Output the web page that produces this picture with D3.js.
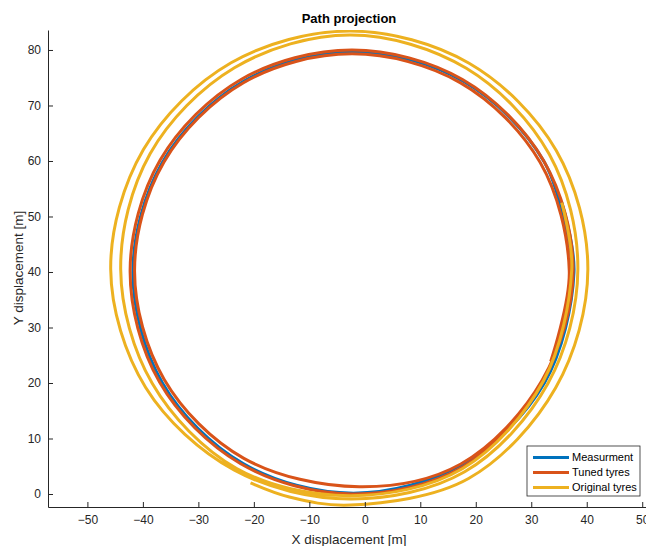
<!DOCTYPE html>
<html>
<head>
<meta charset="utf-8">
<script src="https://cdn.jsdelivr.net/npm/d3@7"></script>
<style>
  body { margin: 0; background: #fff; }
  text { font-family: "Liberation Sans", Arial, sans-serif; }
</style>
</head>
<body>
<div id="chart"></div>
<script>
// Tick values
const xTicks = [-50, -40, -30, -20, -10, 0, 10, 20, 30, 40, 50];
const yTicks = [0, 10, 20, 30, 40, 50, 60, 70, 80];

// Series names (legend order)
const seriesNames = ["Measurment", "Tuned tyres", "Original tyres"];

// Path points [x, y] in metres
const measurement = [
  [35.5, 52.5], [37.7, 39.9], [32.37, 20.02], [17.83, 5.48], [-2.05, 0.15],
  [-21.93, 5.48], [-36.47, 20.02], [-41.8, 39.9], [-36.47, 59.78], [-21.93, 74.32],
  [-2.05, 79.65], [17.83, 74.32], [32.37, 59.78], [37.7, 39.9]
];

const tuned = [
  [35.5, 52.5], [37.3, 40.2], [32.17, 20.3], [17.7, 4.9], [-2.3, 0.0],
  [-22.37, 5.45], [-37.0, 20.17], [-42.3, 40.2], [-36.88, 60.17], [-22.23, 74.73],
  [-2.3, 80.0], [17.61, 74.68], [32.19, 60.12], [37.55, 40.2], [31.93, 20.43],
  [17.31, 5.4], [-1.0, 1.3], [-21.8, 6.43], [-36.16, 20.65], [-41.5, 40.2],
  [-36.22, 59.78], [-21.87, 74.09], [-2.3, 79.3], [17.26, 74.08], [31.59, 59.77],
  [36.85, 40.2], [33.5, 23.9]
];

const original = [
  [35.5, 52.5], [37.3, 40.5], [32.2, 20.4], [17.65, 4.6], [-2.6, -0.3],
  [-23.1, 4.6], [-38.3, 19.9], [-44.0, 40.5], [-38.7, 61.3], [-23.5, 76.8],
  [-2.6, 82.7], [18.3, 76.7], [33.25, 61.2], [38.4, 40.5], [33.0, 19.9],
  [18.0, 4.0], [-2.6, -0.9], [-23.5, 4.3], [-39.5, 19.2], [-45.8, 40.5],
  [-39.9, 62.05], [-24.1, 77.7], [-2.6, 83.4], [18.8, 77.6], [34.5, 61.9],
  [40.2, 40.5], [34.4, 19.15], [18.7, 2.8], [-2.6, -2.0], [-13.6, -0.55],
  [-20.6, 2.0]
];

const width = 646;
const height = 546;
const axisColor = "#262626";
const colors = ["#0072BD", "#D95319", "#EDB120"];

const xScale = d3.scaleLinear().domain([-57.1, 51.4]).range([48, 650]);
const yScale = d3.scaleLinear().domain([-2.34, 83.6]).range([507, 30]);

const svg = d3.select("#chart")
  .append("svg")
  .attr("width", width)
  .attr("height", height);

svg.append("defs").append("clipPath")
  .attr("id", "plot-clip")
  .append("rect")
  .attr("x", 48).attr("y", 30)
  .attr("width", 602).attr("height", 477);

// Paths
const lineGenerator = d3.line()
  .x(d => xScale(d[0]))
  .y(d => yScale(d[1]))
  .curve(d3.curveCatmullRom.alpha(0.5));

const plot = svg.append("g").attr("clip-path", "url(#plot-clip)");
[measurement, tuned, original].forEach((pts, i) => {
  plot.append("path")
    .attr("d", lineGenerator(pts))
    .attr("fill", "none")
    .attr("stroke", colors[i])
    .attr("stroke-width", 3)
    .attr("stroke-linejoin", "round");
});

// Axes (ticks point inwards, like MATLAB)
const xAxis = d3.axisBottom(xScale).tickValues(xTicks).tickSize(-5).tickSizeOuter(0).tickPadding(8);
const gx = svg.append("g")
  .attr("transform", `translate(0,${yScale.range()[0]})`)
  .call(xAxis);

const yAxis = d3.axisLeft(yScale).tickValues(yTicks).tickSize(-5).tickSizeOuter(0).tickPadding(7);
const gy = svg.append("g")
  .attr("transform", `translate(${xScale.range()[0]},0)`)
  .call(yAxis);

[gx, gy].forEach(g => {
  g.select(".domain").attr("stroke", axisColor);
  g.selectAll(".tick line").attr("stroke", axisColor);
  g.selectAll(".tick text")
    .attr("fill", axisColor)
    .style("font-size", "12px");
});

// Title and axis labels
svg.append("text")
  .attr("x", 349)
  .attr("y", 23)
  .attr("text-anchor", "middle")
  .style("font-size", "13px")
  .style("font-weight", "bold")
  .attr("fill", "#000")
  .text("Path projection");

svg.append("text")
  .attr("x", 349)
  .attr("y", 544)
  .attr("text-anchor", "middle")
  .style("font-size", "13.5px")
  .attr("fill", axisColor)
  .text("X displacement [m]");

svg.append("text")
  .attr("transform", "rotate(-90)")
  .attr("x", -268)
  .attr("y", 23)
  .attr("text-anchor", "middle")
  .style("font-size", "13.5px")
  .attr("fill", axisColor)
  .text("Y displacement [m]");

// Legend
const legend = svg.append("g").attr("transform", "translate(527,446)");
legend.append("rect")
  .attr("width", 113)
  .attr("height", 50)
  .attr("fill", "#fff")
  .attr("stroke", axisColor)
  .attr("stroke-width", 0.8);

const rows = legend.selectAll(".legend-row")
  .data(seriesNames)
  .enter()
  .append("g")
  .attr("class", "legend-row")
  .attr("transform", (d, i) => `translate(0,${11.5 + i * 15})`);

rows.append("line")
  .attr("x1", 6).attr("x2", 42)
  .attr("stroke", (d, i) => colors[i])
  .attr("stroke-width", 3);

rows.append("text")
  .attr("x", 45)
  .attr("dy", "0.35em")
  .style("font-size", "11px")
  .attr("fill", "#000")
  .text(d => d);
</script>
</body>
</html>
